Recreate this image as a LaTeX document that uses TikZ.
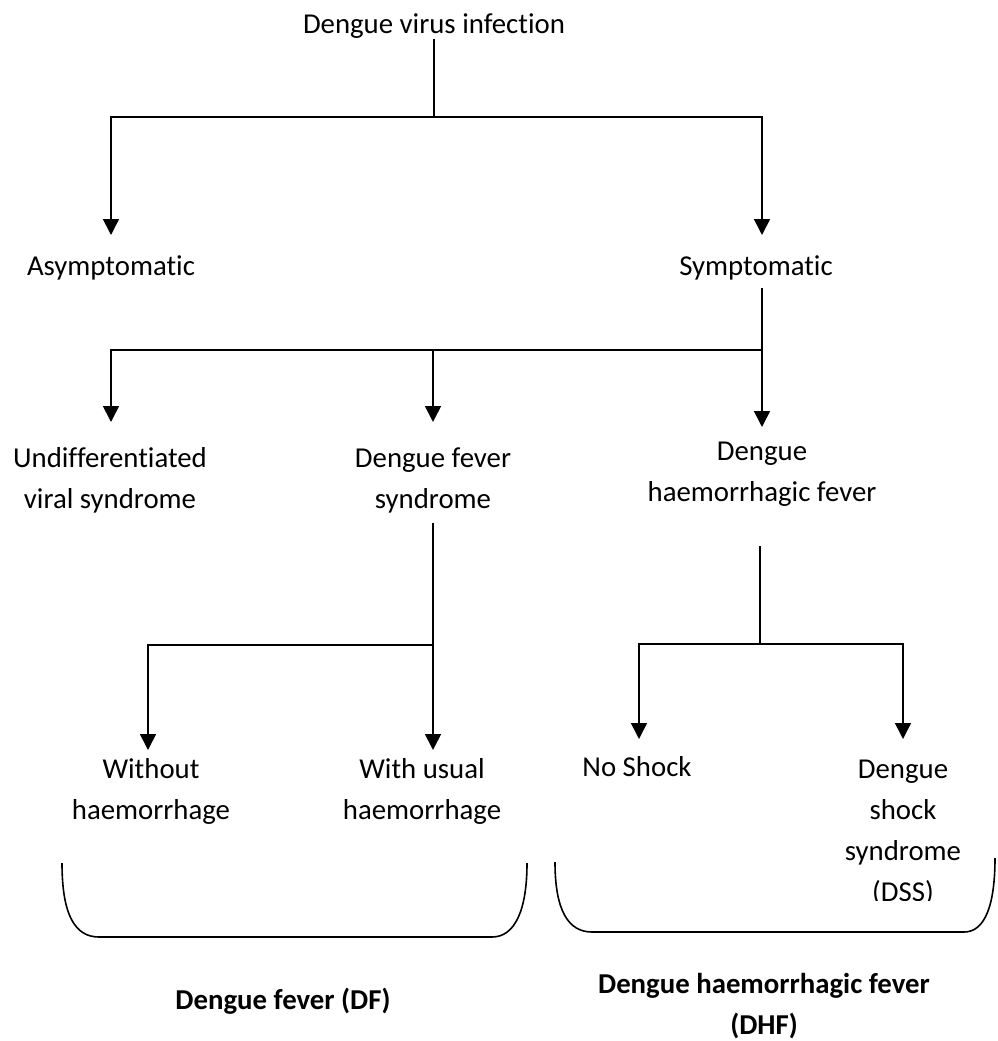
\documentclass[tikz,border=0pt]{standalone}
\usepackage{fontspec}
\setmainfont{Carlito}[Ligatures=NoCommon]
\usetikzlibrary{arrows.meta}
\begin{document}
\begin{tikzpicture}[x=1pt,y=-1pt,
 txt/.style={inner sep=0pt, align=center, font=\fontsize{28.8}{41}\selectfont},
 btxt/.style={inner sep=0pt, align=center, font=\fontsize{28.8}{41}\selectfont\bfseries},
 ln/.style={line width=1.6pt},
 arr/.style={line width=1.6pt, -{Triangle[width=16pt,length=16pt]}},
 bracket/.style={line width=1.6pt}]
\useasboundingbox (0,0) rectangle (997,1041);
% nodes
\node[txt] (dvi) at (434,26) {Dengue virus infection};
\node[txt] (asym) at (111,268) {Asymptomatic};
\node[txt] (sym) at (756,268) {Symptomatic};
\node[txt] (uvs) at (110,480) {Undifferentiated\\viral syndrome};
\node[txt] (dfs) at (433,480) {Dengue fever\\syndrome};
\node[txt] (dhf) at (762,474) {Dengue\\haemorrhagic fever};
\node[txt] (woh) at (151,791) {Without\\haemorrhage};
\node[txt] (wuh) at (422,791) {With usual\\haemorrhage};
\node[txt] (nos) at (637,767) {No Shock};
\begin{scope}
\clip (800,700) rectangle (997,900);
\node[txt] (dss) at (903,833) {Dengue\\shock\\syndrome\\(DSS)};
\end{scope}
\node[btxt] (df) at (283,1001) {Dengue fever (DF)};
\node[btxt] (dhfl) at (764,1006) {Dengue haemorrhagic fever\\(DHF)};
% level 1
\coordinate (j1) at (434,117);
\coordinate (t1) at (111,235);
\coordinate (t2) at (762,235);
\draw[ln] (dvi) -- (j1);
\draw[arr] (j1) -| (t1);
\draw[arr] (j1) -| (t2);
% level 2
\coordinate (j2) at (762,350);
\coordinate (t3) at (111,422);
\coordinate (t4) at (433,422);
\coordinate (t5) at (762,427);
\draw[ln, shorten <=8pt] (sym.south -| j2) -- (j2);
\draw[arr] (j2) -| (t3);
\draw[arr] (j2 -| t4) -- (t4);
\draw[arr] (j2) -- (t5);
% level 3 left
\coordinate (j3) at (433,645);
\coordinate (t6) at (148,750);
\coordinate (t7) at (433,750);
\draw[ln, shorten <=10pt] (dfs.south) -- (j3);
\draw[arr] (j3) -| (t6);
\draw[arr] (j3) -- (t7);
% level 3 right
\coordinate (j4) at (760,644);
\coordinate (t8) at (639,739);
\coordinate (t9) at (903,739);
\draw[ln, shorten <=40pt] (dhf.south -| j4) -- (j4);
\draw[arr] (j4) -| (t8);
\draw[arr] (j4) -| (t9);
% brackets
\draw[bracket] (62,863) .. controls (62,915) and (75,937) .. (99,937) -- (492,937) .. controls (515,937) and (527,910) .. (527,863);
\draw[bracket] (555,862) .. controls (555,910) and (568,932) .. (592,932) -- (964,932) .. controls (985,932) and (995,905) .. (995,858);
\end{tikzpicture}
\end{document}
